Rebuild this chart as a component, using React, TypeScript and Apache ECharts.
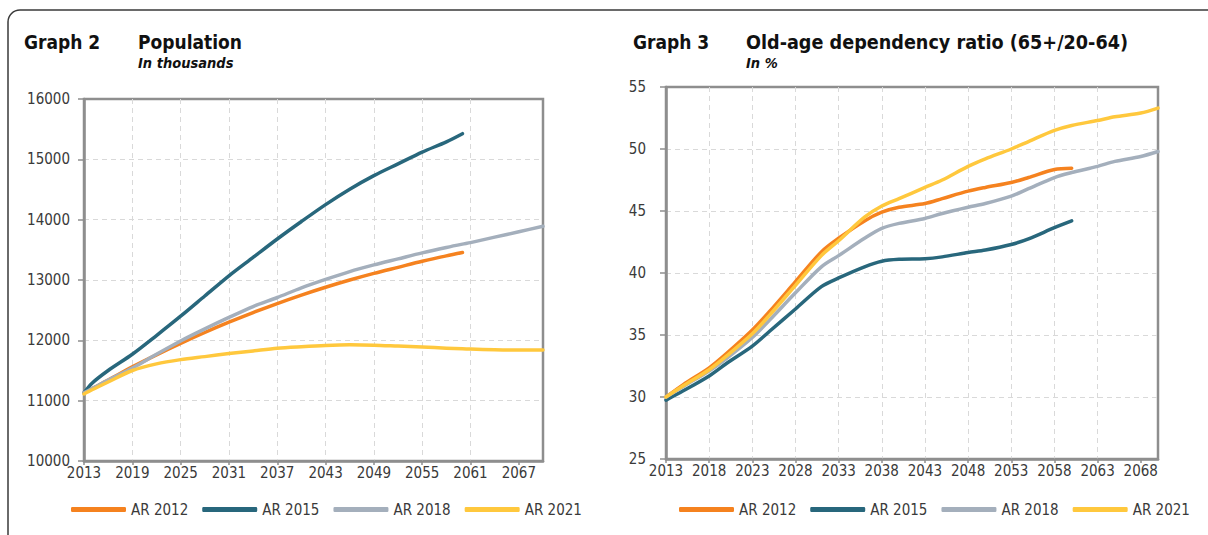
import React, { useEffect, useRef } from "react";
import * as echarts from "echarts";

// ---------- Data ----------
const years: string[] = [];
for (let y = 2013; y <= 2070; y++) years.push(String(y));

const seriesNames = ["AR 2012", "AR 2015", "AR 2018", "AR 2021"];
const seriesColors = ["#F5821F", "#28677C", "#A4AFBC", "#FFC83D"];

// Graph 2: Population (thousands)
const popYears = [2013, 2014, 2016, 2019, 2022, 2025, 2028, 2031, 2034, 2037, 2040, 2043, 2046, 2049, 2052, 2055, 2058, 2060, 2061, 2064, 2067, 2070];
const popAR2012 = [11130, 11200, 11340, 11560, 11760, 11950, 12130, 12300, 12460, 12610, 12750, 12880, 13000, 13110, 13210, 13310, 13400, 13455, null, null, null, null];
const popAR2015 = [11130, 11290, 11500, 11770, 12080, 12400, 12735, 13070, 13375, 13680, 13970, 14250, 14505, 14730, 14925, 15120, 15290, 15425, null, null, null, null];
const popAR2018 = [11130, 11200, 11340, 11540, 11770, 11990, 12190, 12380, 12560, 12710, 12870, 13010, 13140, 13250, 13350, 13450, 13540, 13595, 13620, 13710, 13800, 13890];
const popAR2021 = [11110, 11180, 11310, 11500, 11610, 11680, 11730, 11780, 11825, 11870, 11895, 11915, 11925, 11920, 11905, 11890, 11870, 11860, 11855, 11845, 11840, 11840];

// Graph 3: Old-age dependency ratio (%)
const oadYears = [2013, 2015, 2018, 2020, 2023, 2025, 2028, 2031, 2033, 2036, 2038, 2040, 2043, 2045, 2048, 2050, 2053, 2055, 2058, 2060, 2063, 2065, 2068, 2070];
const oadAR2012 = [30.0, 31.0, 32.35, 33.5, 35.4, 36.9, 39.3, 41.7, 42.8, 44.2, 44.9, 45.3, 45.6, 46.0, 46.6, 46.9, 47.3, 47.7, 48.35, 48.45, null, null, null, null];
const oadAR2015 = [29.75, 30.5, 31.7, 32.7, 34.1, 35.3, 37.1, 38.9, 39.6, 40.5, 40.95, 41.1, 41.15, 41.3, 41.65, 41.85, 42.3, 42.75, 43.65, 44.2, null, null, null, null];
const oadAR2018 = [30.0, 30.85, 32.1, 33.1, 34.8, 36.2, 38.4, 40.5, 41.4, 42.8, 43.6, 44.0, 44.4, 44.8, 45.3, 45.6, 46.2, 46.8, 47.7, 48.1, 48.6, 49.0, 49.4, 49.8];
const oadAR2021 = [30.0, 30.9, 32.2, 33.3, 35.1, 36.6, 39.0, 41.4, 42.6, 44.5, 45.4, 46.0, 46.9, 47.5, 48.6, 49.2, 50.0, 50.6, 51.5, 51.9, 52.3, 52.6, 52.9, 53.3];

const FONT = "'DejaVu Sans Condensed', 'Liberation Sans', sans-serif";

function toPairs(ys: number[], vals: (number | null)[]) {
  const out: [string, number][] = [];
  ys.forEach((y, i) => {
    const v = vals[i];
    if (v !== null && v !== undefined) out.push([String(y), v]);
  });
  return out;
}

export default function App() {
  const ref = useRef<HTMLDivElement>(null);
  useEffect(() => {
    if (!ref.current) return;
    const chart = echarts.init(ref.current, undefined, { renderer: "svg" });
    const axisColor = "#8E8E8E";
    const labelColor = "#3a3a3a";
    const gridColor = "#D9D9D9";

    const makeX = (gridIndex: number, interval: number) => ({
      type: "category",
      gridIndex,
      data: years,
      boundaryGap: false,
      axisLine: { lineStyle: { color: axisColor, width: 2.5 } },
      axisTick: { show: true, interval, length: 4, lineStyle: { color: axisColor, width: 1.5 } },
      axisLabel: { interval, margin: 4, fontSize: 15, color: labelColor, fontFamily: FONT },
      splitLine: { show: true, interval, showMinLine: false, showMaxLine: false, lineStyle: { color: gridColor, type: [5, 4], width: 1 } },
    });
    const makeY = (gridIndex: number, min: number, max: number, interval: number, margin: number) => ({
      type: "value",
      gridIndex,
      min,
      max,
      interval,
      axisLine: { show: true, lineStyle: { color: axisColor, width: 2.5 } },
      axisTick: { show: true, length: 6, lineStyle: { color: axisColor, width: 1.5 } },
      axisLabel: { margin, fontSize: 15, color: labelColor, fontFamily: FONT, formatter: (v: number) => String(v) },
      splitLine: { show: true, showMinLine: false, showMaxLine: false, lineStyle: { color: gridColor, type: [5, 4], width: 1 } },
    });

    const popData = [popAR2012, popAR2015, popAR2018, popAR2021];
    const oadData = [oadAR2012, oadAR2015, oadAR2018, oadAR2021];

    const mkSeries = (idx: number, ys: number[], vals: (number | null)[], i: number) => ({
      type: "line",
      name: seriesNames[i],
      xAxisIndex: idx,
      yAxisIndex: idx,
      data: toPairs(ys, vals),
      smooth: 0.3,
      showSymbol: false,
      symbol: "none",
      lineStyle: { width: 3.5, color: seriesColors[i], cap: "round", join: "round" },
      itemStyle: { color: seriesColors[i] },
    });

    const legendBase = {
      data: seriesNames,
      icon: "roundRect",
      itemWidth: 55,
      itemHeight: 5,
      itemGap: 14,
      padding: 0,
      textStyle: { fontSize: 15, color: labelColor, fontFamily: FONT },
      selectedMode: false,
    };

    const titleStyle = (text: string, size: number, italic = false) => ({
      text,
      fontFamily: FONT,
      fontSize: size,
      fontWeight: "bold",
      fontStyle: italic ? "italic" : "normal",
      fill: "#111",
      verticalAlign: "middle",
    });

    chart.setOption({
      animation: false,
      backgroundColor: "#fff",
      grid: [
        { left: 84, top: 99, width: 459, height: 362, show: true, borderColor: axisColor, borderWidth: 2.5, containLabel: false },
        { left: 666, top: 87, width: 492, height: 372, show: true, borderColor: axisColor, borderWidth: 2.5, containLabel: false },
      ],
      xAxis: [makeX(0, 5), makeX(1, 4)],
      yAxis: [makeY(0, 10000, 16000, 1000, 14), makeY(1, 25, 55, 5, 20)],
      legend: [
        { ...legendBase, left: 71, top: 502 },
        { ...legendBase, left: 679, top: 502 },
      ],
      series: [
        ...popData.map((v, i) => mkSeries(0, popYears, v, i)),
        ...oadData.map((v, i) => mkSeries(1, oadYears, v, i)),
      ],
      graphic: [
        {
          type: "rect",
          shape: { x: 8, y: 10, width: 1240, height: 560, r: 12 },
          style: { fill: "none", stroke: "#3a3a3a", lineWidth: 1.5 },
          silent: true,
        },
        { type: "text", x: 24, y: 42, style: titleStyle("Graph 2", 19) },
        { type: "text", x: 138, y: 42, style: titleStyle("Population", 19) },
        { type: "text", x: 138, y: 63, style: titleStyle("In thousands", 14.5, true) },
        { type: "text", x: 633, y: 42, style: titleStyle("Graph 3", 19) },
        { type: "text", x: 746, y: 42, style: titleStyle("Old-age dependency ratio (65+/20-64)", 19.6) },
        { type: "text", x: 746, y: 63, style: titleStyle("In %", 14.5, true) },
      ],
    });
    return () => chart.dispose();
  }, []);
  return (
    <div
      ref={ref}
      style={{ position: "fixed", left: 0, top: 0, width: 1208, height: 535, background: "#fff" }}
    />
  );
}
